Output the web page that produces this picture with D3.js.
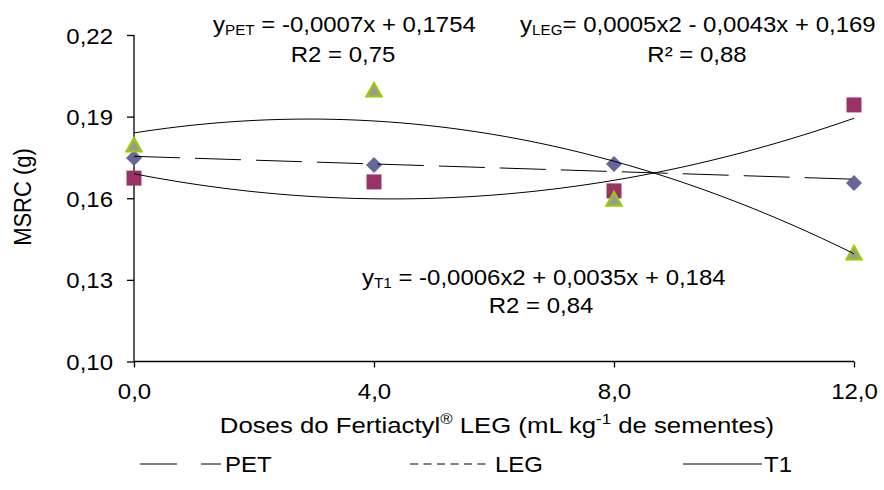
<!DOCTYPE html>
<html>
<head>
<meta charset="utf-8">
<script src="https://cdn.jsdelivr.net/npm/d3@7"></script>
<style>
  html, body { margin: 0; padding: 0; background: #fff; }
  svg { display: block; font-family: "Liberation Sans", Arial, sans-serif; }
</style>
</head>
<body>
<svg id="chart" width="884" height="490"></svg>
<script>
// Doses (mL kg-1) and measured MSRC (g) for each treatment
const doses = [0, 4, 8, 12];
const petValues = [0.1748, 0.1722, 0.1726, 0.1656];
const legValues = [0.1674, 0.1660, 0.1627, 0.1943];
const t1Values  = [0.1796, 0.1998, 0.1597, 0.1399];

// Fitted trend coefficients [c0, c1, c2] for y = c0 + c1*x + c2*x^2
const petCoef = [0.1754, -0.0007, 0];
const legCoef = [0.169, -0.0043, 0.0005];
const t1Coef  = [0.184, 0.0035, -0.0006];

const xTicks = [0, 4, 8, 12];
const yTicks = [0.10, 0.13, 0.16, 0.19, 0.22];

const SX = 1.09;   // horizontal glyph stretch used for all labels
const FS = 22;     // base font size

const svg = d3.select("#chart");
const x = d3.scaleLinear().domain([0, 12]).range([134, 854]);
const y = d3.scaleLinear().domain([0.10, 0.22]).range([361.5, 35]);
const fmt = v => d3.format(".2f")(v).replace(".", ",");
const fmtX = v => d3.format(".1f")(v).replace(".", ",");

// Axes
const yAxis = d3.axisLeft(y).tickValues(yTicks).tickFormat(fmt).tickSize(7);
const xAxis = d3.axisBottom(x).tickValues(xTicks).tickFormat(fmtX).tickSize(6);

const gy = svg.append("g").attr("transform", `translate(${x(0)},0)`).call(yAxis);
gy.select(".domain").attr("d", `M0,${y(0.22)}V${y(0.10)}`);
gy.selectAll(".tick text")
  .attr("x", 0).attr("dy", null).attr("y", 0)
  .attr("text-anchor", "end")
  .attr("transform", `translate(-21,8) scale(${SX},1)`);

const gx = svg.append("g").attr("transform", `translate(0,${y(0.10)})`).call(xAxis);
gx.select(".domain").attr("d", `M${x(0)},0H${x(12)}`);
gx.selectAll(".tick text")
  .attr("x", 0).attr("dy", null).attr("y", 0)
  .attr("text-anchor", "middle")
  .attr("transform", `translate(0,37.5) scale(${SX},1)`);

svg.selectAll(".tick text").attr("font-size", FS).attr("fill", "#000")
  .attr("font-family", "Liberation Sans, Arial, sans-serif");
svg.selectAll(".domain, .tick line").attr("stroke", "#000").attr("stroke-width", 1.3);

// Stretched text helper
function stext(px, py, anchor, size) {
  return svg.append("g").attr("transform", `translate(${px},${py}) scale(${SX},1)`)
    .append("text").attr("text-anchor", anchor || "start").attr("font-size", size || FS);
}

// Axis titles
svg.append("g").attr("transform", `translate(31,197) scale(${SX},1) rotate(-90)`)
  .append("text").attr("text-anchor", "middle").attr("font-size", FS).text("MSRC (g)");

const xt = svg.append("g").attr("transform", `translate(497,433) scale(1.12,1)`)
  .append("text").attr("text-anchor", "middle").attr("font-size", 23);
xt.append("tspan").text("Doses do Fertiactyl");
xt.append("tspan").attr("font-size", 15).attr("dy", -9).text("®");
xt.append("tspan").attr("dy", 9).text(" LEG (mL kg");
xt.append("tspan").attr("font-size", 15).attr("dy", -9).text("-1");
xt.append("tspan").attr("dy", 9).text(" de sementes)");

// Markers: PET diamonds, LEG squares, T1 triangles
svg.append("g").selectAll("path").data(petValues).join("path")
  .attr("d", "M0,-8L8,0L0,8L-8,0Z")
  .attr("transform", (v, i) => `translate(${x(doses[i])},${y(v)})`)
  .attr("fill", "#666699");

svg.append("g").selectAll("rect").data(legValues).join("rect")
  .attr("x", (v, i) => x(doses[i]) - 7.5).attr("y", v => y(v) - 7.5)
  .attr("width", 15).attr("height", 15)
  .attr("fill", "#993366");

svg.append("g").selectAll("path").data(t1Values).join("path")
  .attr("d", "M0,-7L7.5,6.5L-7.5,6.5Z")
  .attr("transform", (v, i) => `translate(${x(doses[i])},${y(v)})`)
  .attr("fill", "#999999")
  .attr("stroke", "#99cc00")
  .attr("stroke-width", 2.2)
  .attr("stroke-linejoin", "miter");

// Trend lines
const poly = c => xv => c[0] + c[1] * xv + c[2] * xv * xv;
const xs = d3.range(0, 12.0001, 0.1);
const line = f => d3.line().x(d => x(d)).y(d => y(f(d)))(xs);

svg.append("path").attr("d", line(poly(petCoef)))
  .attr("fill", "none").attr("stroke", "#000").attr("stroke-width", 1)
  .attr("stroke-dasharray", "46,15");
svg.append("path").attr("d", line(poly(legCoef)))
  .attr("fill", "none").attr("stroke", "#000").attr("stroke-width", 1);
svg.append("path").attr("d", line(poly(t1Coef)))
  .attr("fill", "none").attr("stroke", "#000").attr("stroke-width", 1);

// Equation labels
function equation(px, py, name, rest) {
  const t = stext(px, py, "start");
  t.append("tspan").text("y");
  t.append("tspan").attr("font-size", 14).attr("dy", 3).text(name);
  t.append("tspan").attr("dy", -3).text(rest);
}
equation(213, 32, "PET", " = -0,0007x + 0,1754");
stext(343, 62, "middle").text("R2 = 0,75");
equation(520, 32, "LEG", "= 0,0005x2 - 0,0043x + 0,169");
stext(697, 62, "middle").text("R² = 0,88");
equation(362, 285, "T1", " = -0,0006x2 + 0,0035x + 0,184");
stext(541, 313, "middle").text("R2 = 0,84");

// Legend
const lg = svg.append("g");
lg.append("path").attr("d", "M140,464H177M201,464H221").attr("stroke", "#000");
stext(225, 472, "start").text("PET");
lg.append("path").attr("d", "M410,464H491").attr("stroke", "#000").attr("stroke-dasharray", "8,5.5");
stext(495, 472, "start").text("LEG");
lg.append("path").attr("d", "M683,464H762").attr("stroke", "#000");
stext(764, 472, "start").text("T1");
</script>
</body>
</html>
